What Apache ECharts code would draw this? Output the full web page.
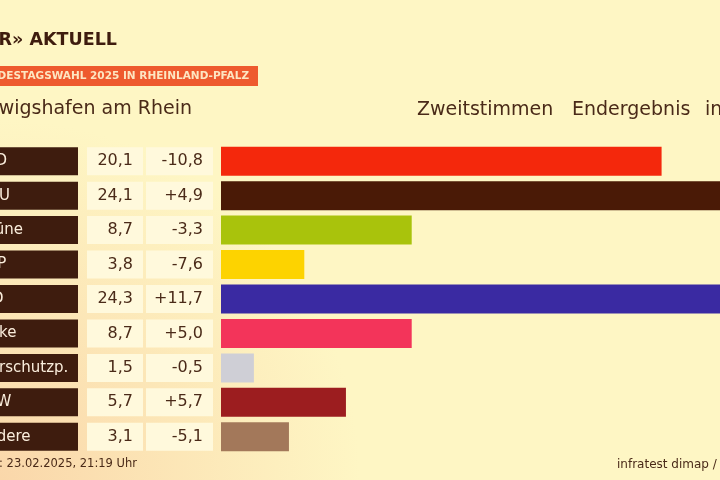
<!DOCTYPE html>
<html lang="de">
<head>
    <meta charset="UTF-8">
    <title>Ludwigshafen am Rhein</title>
    <script src="https://cdn.jsdelivr.net/npm/echarts@6/dist/echarts.min.js"></script>
    <style>
        html, body { margin: 0; padding: 0; }
        #main { width: 720px; height: 480px; }
    </style>
</head>
<body>
<div id="main"></div>
<script type="text/javascript">
    // Zweitstimmen Ludwigshafen am Rhein, Bundestagswahl 2025
    var parties = ['SPD', 'CDU', 'Grüne', 'FDP', 'AfD', 'Linke', 'Tierschutzp.', 'BSW', 'Andere'];
    var votes = [20.1, 24.1, 8.7, 3.8, 24.3, 8.7, 1.5, 5.7, 3.1];
    var diffs = [-10.8, 4.9, -3.3, -7.6, 11.7, 5.0, -0.5, 5.7, -5.1];
    var partyColors = ['#f4280c', '#4a1a06', '#a9c30c', '#fdd300', '#3a2aa2', '#f3345a', '#cfcfd6', '#9c1d1f', '#a3785a'];

    var fontFam = '"DejaVu Sans", sans-serif';
    var textCol = '#4a2a18';

    function fmt(v, signed) {
        var s = Math.abs(v).toFixed(1).replace('.', ',');
        if (!signed) return s;
        return (v >= 0 ? '+' : '-') + s;
    }

    var myChart = echarts.init(document.getElementById('main'));

    // Tabellen-Spalten links als zusaetzliche y-Achsen
    function tableAxis(offset, labelOpt) {
        return {
            type: 'category',
            data: parties,
            inverse: true,
            position: 'left',
            offset: offset,
            axisLine: { show: false },
            axisTick: { show: false },
            splitLine: { show: false },
            axisLabel: Object.assign({
                interval: 0,
                margin: 0,
                height: 28,
                lineHeight: 28,
                fontFamily: fontFam
            }, labelOpt)
        };
    }

    var option = {
        backgroundColor: {
            type: 'radial', x: 0, y: 1, r: 0.75,
            colorStops: [
                { offset: 0, color: '#fad7aa' },
                { offset: 1, color: '#fef6c4' }
            ]
        },
        animation: false,
        grid: { left: 221, top: 144, height: 310, width: 548, outerBoundsMode: 'none', containLabel: false },
        xAxis: { type: 'value', min: 0, max: 25, show: false },
        yAxis: [
            tableAxis(248, {
                align: 'left',
                width: 101,
                padding: [0, 0, 0, 4],
                backgroundColor: '#3e1c0e',
                color: '#fbeedd',
                fontSize: 15
            }),
            tableAxis(78, {
                align: 'right',
                width: 46,
                padding: [0, 10, 0, 0],
                backgroundColor: '#fff9dc',
                color: textCol,
                fontSize: 16,
                formatter: function (val, idx) { return fmt(votes[idx], false); }
            }),
            tableAxis(8, {
                align: 'right',
                width: 57,
                padding: [0, 10, 0, 0],
                backgroundColor: '#fff9dc',
                color: textCol,
                fontSize: 16,
                formatter: function (val, idx) { return fmt(diffs[idx], true); }
            })
        ],
        series: [{
            type: 'bar',
            yAxisIndex: 0,
            barWidth: 29,
            data: votes.map(function (v, i) {
                return { value: v, itemStyle: { color: partyColors[i] } };
            })
        }],
        graphic: [
            { type: 'text', x: 117, y: 40, style: { text: 'SWR» AKTUELL', align: 'right', verticalAlign: 'middle', font: 'bold 17.5px ' + fontFam, fill: '#3e1c0e' } },
            { type: 'rect', shape: { x: -10, y: 66, width: 268, height: 20 }, style: { fill: '#ee5a2e' } },
            { type: 'text', x: 249, y: 76, style: { text: 'BUNDESTAGSWAHL 2025 IN RHEINLAND-PFALZ', align: 'right', verticalAlign: 'middle', font: 'bold 10.5px ' + fontFam, fill: '#fde6c2' } },
            { type: 'text', x: 192, y: 109, style: { text: 'Ludwigshafen am Rhein', align: 'right', verticalAlign: 'middle', font: '19px ' + fontFam, fill: textCol } },
            { type: 'text', x: 417, y: 110, style: { text: 'Zweitstimmen', align: 'left', verticalAlign: 'middle', font: '19px ' + fontFam, fill: textCol } },
            { type: 'text', x: 572, y: 110, style: { text: 'Endergebnis', align: 'left', verticalAlign: 'middle', font: '19px ' + fontFam, fill: textCol } },
            { type: 'text', x: 705, y: 110, style: { text: 'in %', align: 'left', verticalAlign: 'middle', font: '19px ' + fontFam, fill: textCol } },
            { type: 'text', x: 137, y: 464, style: { text: 'Stand: 23.02.2025, 21:19 Uhr', align: 'right', verticalAlign: 'middle', font: '11.5px ' + fontFam, fill: textCol } },
            { type: 'text', x: 617, y: 465, style: { text: 'infratest dimap / SWR', align: 'left', verticalAlign: 'middle', font: '12px ' + fontFam, fill: textCol } }
        ]
    };

    myChart.setOption(option);
</script>
</body>
</html>
